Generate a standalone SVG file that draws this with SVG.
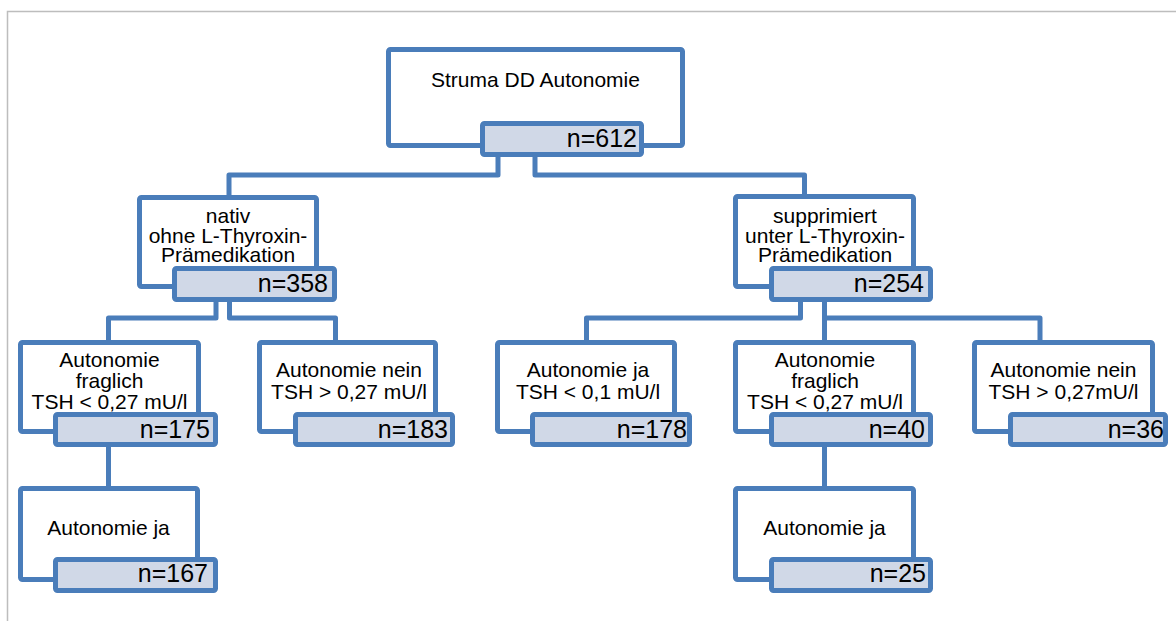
<svg xmlns="http://www.w3.org/2000/svg" width="1176" height="621" viewBox="0 0 1176 621">
<style>
.box{fill:#fff;stroke:#4A7DBA;stroke-width:5}
.nb{fill:#D0D8E7;stroke:#4A7DBA;stroke-width:5}
.lbl{font-family:"Liberation Sans",Arial,sans-serif;font-size:21px;fill:#000;text-anchor:middle}
.n{font-family:"Liberation Sans",Arial,sans-serif;font-size:25px;fill:#000;text-anchor:end}
.con{fill:none;stroke:#4A7DBA;stroke-width:5;stroke-linejoin:round}
</style>
<rect width="1176" height="621" fill="#fff"/>
<g id="frame" fill="none" stroke="#BDBDBD" stroke-width="1.5">
<path d="M7.5 621 V11.5 H1176"/>
</g>
<g id="connectors" class="con">
<path d="M498 157 V175 H229 V196"/>
<path d="M535 157 V175 H804.5 V195"/>
<path d="M216 302 V318 H108.5 V341"/>
<path d="M229.5 302 V318 H335.5 V341"/>
<path d="M800.5 302 V318 H586.5 V341"/>
<path d="M824.5 302 V341"/>
<path d="M824.5 318 H1040 V341"/>
<path d="M108.5 447 V487"/>
<path d="M824.5 447 V487"/>
</g>
<g id="n0">
<rect class="box" x="388.5" y="49.5" width="294" height="96" rx="2"/>
<text class="lbl" x="535.5" y="87">Struma DD Autonomie</text>
<rect class="nb" x="482.5" y="123.5" width="159" height="31" rx="2"/>
<text class="n" x="637" y="147">n=612</text>
</g>
<g id="n1">
<rect class="box" x="139.5" y="197.5" width="177" height="89" rx="2"/>
<text class="lbl" x="228" y="223">nativ</text>
<text class="lbl" x="228" y="243">ohne L-Thyroxin-</text>
<text class="lbl" x="228" y="262">Prämedikation</text>
<rect class="nb" x="174.5" y="268.5" width="160" height="31" rx="2"/>
<text class="n" x="328" y="292">n=358</text>
</g>
<g id="n2">
<rect class="box" x="735.5" y="196.5" width="178" height="90" rx="2"/>
<text class="lbl" x="825" y="223">supprimiert</text>
<text class="lbl" x="825" y="243">unter L-Thyroxin-</text>
<text class="lbl" x="825" y="262">Prämedikation</text>
<rect class="nb" x="771.5" y="268.5" width="159" height="31" rx="2"/>
<text class="n" x="924" y="292">n=254</text>
</g>
<g id="n3">
<rect class="box" x="20.5" y="342.5" width="178" height="89" rx="2"/>
<text class="lbl" x="109.5" y="367">Autonomie</text>
<text class="lbl" x="109.5" y="388">fraglich</text>
<text class="lbl" x="109.5" y="409">TSH &lt; 0,27 mU/l</text>
<rect class="nb" x="55.5" y="414.5" width="160" height="30" rx="2"/>
<text class="n" x="210" y="438">n=175</text>
</g>
<g id="n4">
<rect class="box" x="259.5" y="342.5" width="176" height="89" rx="2"/>
<text class="lbl" x="349" y="377">Autonomie nein</text>
<text class="lbl" x="349" y="399">TSH &gt; 0,27 mU/l</text>
<rect class="nb" x="295.5" y="414.5" width="157" height="30" rx="2"/>
<text class="n" x="448" y="438">n=183</text>
</g>
<g id="n5">
<rect class="box" x="497.5" y="342.5" width="177" height="89" rx="2"/>
<text class="lbl" x="588" y="377">Autonomie ja</text>
<text class="lbl" x="588" y="399">TSH &lt; 0,1 mU/l</text>
<rect class="nb" x="532.5" y="414.5" width="157" height="30" rx="2"/>
<text class="n" x="687" y="438">n=178</text>
</g>
<g id="n6">
<rect class="box" x="735.5" y="342.5" width="178" height="89" rx="2"/>
<text class="lbl" x="825" y="367">Autonomie</text>
<text class="lbl" x="825" y="388">fraglich</text>
<text class="lbl" x="825" y="409">TSH &lt; 0,27 mU/l</text>
<rect class="nb" x="771.5" y="414.5" width="159" height="30" rx="2"/>
<text class="n" x="925" y="438">n=40</text>
</g>
<g id="n7">
<rect class="box" x="974.5" y="342.5" width="178" height="89" rx="2"/>
<text class="lbl" x="1063.5" y="377">Autonomie nein</text>
<text class="lbl" x="1063.5" y="399">TSH &gt; 0,27mU/l</text>
<rect class="nb" x="1010.5" y="414.5" width="155" height="30" rx="2"/>
<text class="n" x="1164" y="438">n=36</text>
</g>
<g id="n8">
<rect class="box" x="20.5" y="488.5" width="177" height="91" rx="2"/>
<text class="lbl" x="108.5" y="535">Autonomie ja</text>
<rect class="nb" x="55.5" y="559.5" width="160" height="31" rx="2"/>
<text class="n" x="208" y="582">n=167</text>
</g>
<g id="n9">
<rect class="box" x="735.5" y="488.5" width="178" height="91" rx="2"/>
<text class="lbl" x="824.5" y="535">Autonomie ja</text>
<rect class="nb" x="771.5" y="559.5" width="159" height="31" rx="2"/>
<text class="n" x="926" y="582">n=25</text>
</g>
</svg>
